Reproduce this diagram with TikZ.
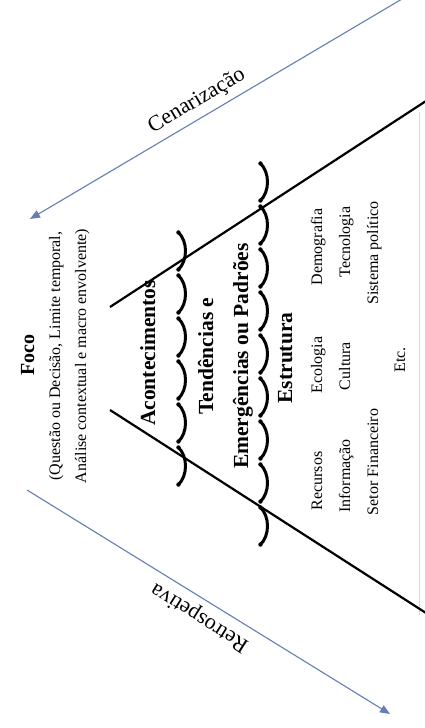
\documentclass[tikz,border=0pt]{standalone}
\usepackage{fontspec}
\setmainfont{Liberation Serif}
\usetikzlibrary{arrows.meta}
\definecolor{arrowblue}{RGB}{100,126,180}
\definecolor{edgegray}{RGB}{218,218,218}
\begin{document}
\begin{tikzpicture}[x=1pt,y=-1pt,
  bluearrow/.style={draw=arrowblue,line width=1.1pt,-{Triangle[length=10pt,width=8pt,fill=arrowblue]}},
  funnel/.style={draw=black,line width=2.2pt},
  bracearc/.style={draw=black,line width=3pt,line cap=round},
  braceend/.style={fill=black,draw=none},
  boldlbl/.style={font=\fontsize{21.5}{24}\selectfont\bfseries,rotate=90,anchor=base,inner sep=0pt},
  reglbl/.style={font=\fontsize{16}{19}\selectfont,rotate=90,anchor=base,inner sep=0pt},
  arrowlbl/.style={font=\fontsize{22}{26}\selectfont,inner sep=0pt}]
\useasboundingbox (0,0) rectangle (424,728);

% faint page edge
\coordinate (e1) at (419,112);
\coordinate (e2) at (419,615);
\draw[edgegray,line width=0.8pt] (e1) -- (e2);

% blue arrows
\coordinate (cs) at (402,-1);
\coordinate (ct) at (30,219);
\draw[bluearrow] (cs) -- (ct);
\coordinate (rs) at (27,490);
\coordinate (rt) at (390,714);
\draw[bluearrow] (rs) -- (rt);
\node[arrowlbl,rotate=30.6] (cen) at (197,101) {Cenarização};
\node[arrowlbl,rotate=147.8] (ret) at (200,617) {Retrospetiva};

% funnel lines
\coordinate (u1) at (110,307);
\coordinate (u2) at (426,101);
\coordinate (l1) at (110,410);
\coordinate (l2) at (426,613);
\draw[funnel] (u1) -- (u2);
\draw[funnel] (l1) -- (l2);

% brace rows
\foreach \i in {0,...,5}{
  \pgfmathsetmacro{\ya}{232+43*\i}
  \pgfmathsetmacro{\yb}{\ya+38}
  \draw[bracearc] (178,\ya) .. controls (188,\ya+9) and (188,\yb-9) .. (178,\yb);
  \fill[braceend] (178.5,\ya+0.5) circle (2.2pt) (178.5,\yb-0.5) circle (2.2pt);
}
\foreach \i in {0,...,8}{
  \pgfmathsetmacro{\ya}{163+43*\i}
  \pgfmathsetmacro{\yb}{\ya+38}
  \draw[bracearc] (260,\ya) .. controls (270,\ya+9) and (270,\yb-9) .. (260,\yb);
  \fill[braceend] (260.5,\ya+0.5) circle (2.2pt) (260.5,\yb-0.5) circle (2.2pt);
}

% left texts
\node[boldlbl,font=\fontsize{20}{24}\selectfont\bfseries] (foco) at (34,355) {Foco};
\node[reglbl] (q1) at (60,356) {(Questão ou Decisão, Limite temporal,};
\node[reglbl] (q2) at (86,356) {Análise contextual e macro envolvente)};

% layer labels
\node[boldlbl] (acont) at (155,353) {Acontecimentos};
\node[boldlbl] (tend) at (213,356) {Tendências e};
\node[boldlbl] (emerg) at (248,356) {Emergências ou Padrões};
\node[boldlbl] (estr) at (292,358) {Estrutura};

% structure items
\node[reglbl] (rec) at (322,481) {Recursos};
\node[reglbl] (eco) at (322,365) {Ecologia};
\node[reglbl] (dem) at (322,247) {Demografia};
\node[reglbl] (inf) at (350,476) {Informação};
\node[reglbl] (cul) at (350,366) {Cultura};
\node[reglbl] (tec) at (350,242) {Tecnologia};
\node[reglbl] (set) at (378,462) {Setor Financeiro};
\node[reglbl] (sis) at (378,253) {Sistema político};
\node[reglbl] (etc) at (405,360) {Etc.};
\end{tikzpicture}
\end{document}
